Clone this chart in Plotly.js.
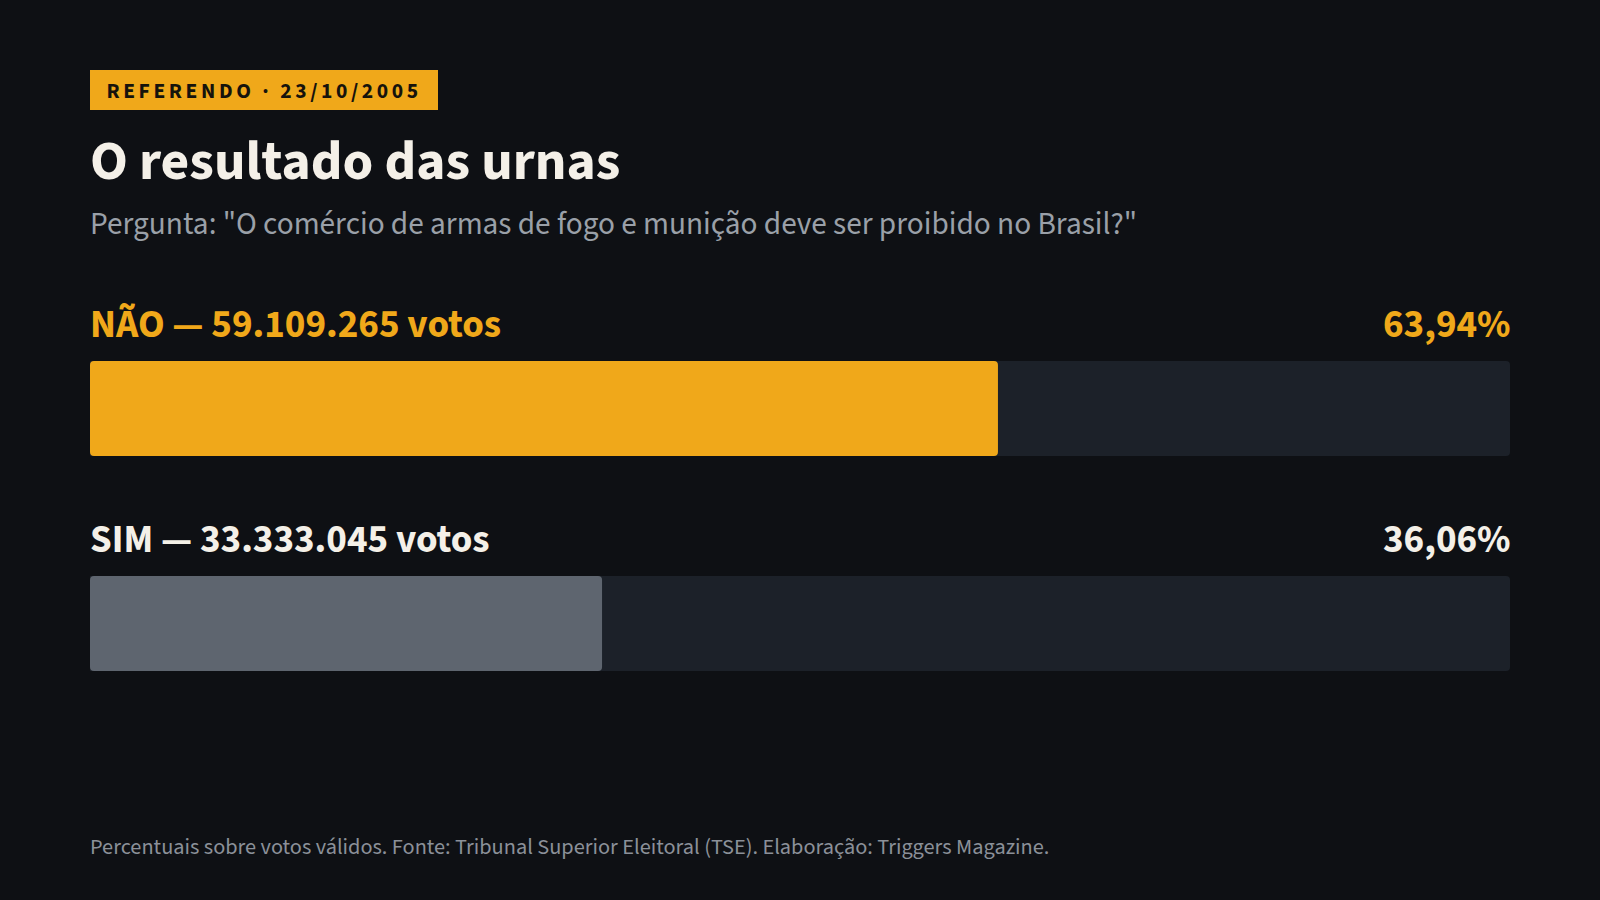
<!DOCTYPE html>
<html lang="pt-BR">
<head>
<meta charset="utf-8">
<title>O resultado das urnas</title>
<script src="https://cdn.plot.ly/plotly-3.0.1.min.js"></script>
<style>
    html, body { margin: 0; padding: 0; background: #0e1014; }
    #chart { width: 1600px; height: 900px; }
    /* tag letter spacing */
    .annotation[data-index="0"] text { letter-spacing: 3.6px; }
</style>
</head>
<body>
<div id="chart"></div>
<script>
/* ── data ── */
const options = ['NÃO', 'SIM'];
const votes = [59109265, 33333045];
const percents = [63.94, 36.06];

const tagText = 'REFERENDO · 23/10/2005';
const titleText = 'O resultado das urnas';
const subtitleText = 'Pergunta: "O comércio de armas de fogo e munição deve ser proibido no Brasil?"';
const footerText = 'Percentuais sobre votos válidos. Fonte: Tribunal Superior Eleitoral (TSE). Elaboração: Triggers Magazine.';

/* ── style ── */
const FONT = '"Source Sans 3", "Source Sans Pro", Lato, sans-serif';
const C = {
    bg: '#0e1014',
    track: '#1c2129',
    orange: '#f0a81a',
    grey: '#5e656f',
    text: '#f4f0e8',
    muted: '#9aa0a8',
    foot: '#8b9099',
};
const barColors = [C.orange, C.grey];
const labelColors = [C.orange, C.text];

const W = 1600, H = 900;
const px = x => x / W;          // page px -> paper x
const py = y => 1 - y / H;      // page px -> paper y

const fmtVotes = n => n.toLocaleString('pt-BR');
const fmtPct = p => p.toFixed(2).replace('.', ',') + '%';

// track behind (rounded at the right end) + filled bar.
// The fill is drawn from its value back to 0 so the rounded end sits on the left.
const traces = [
    {
        type: 'bar', orientation: 'h',
        y: options, x: options.map(() => 100),
        marker: { color: C.track, cornerradius: 4 },
        width: 0.442, hoverinfo: 'skip',
    },
    {
        type: 'bar', orientation: 'h',
        y: options, base: percents, x: percents.map(p => -p),
        marker: { color: barColors, cornerradius: 4 },
        width: 0.442, hoverinfo: 'skip',
    },
];

const annotations = [
    // 0: tag (letter-spaced via css)
    { text: '<b>' + tagText + '</b>', xref: 'paper', yref: 'paper', x: px(264), y: py(91),
      xanchor: 'center', yanchor: 'middle', showarrow: false,
      font: { family: FONT, size: 21.5, color: '#16130c' } },
    { text: '<b>' + titleText + '</b>', xref: 'paper', yref: 'paper', x: px(88), y: py(161),
      xanchor: 'left', yanchor: 'middle', showarrow: false,
      font: { family: FONT, size: 55.5, color: C.text } },
    { text: subtitleText, xref: 'paper', yref: 'paper', x: px(88), y: py(224.5),
      xanchor: 'left', yanchor: 'middle', showarrow: false,
      font: { family: FONT, size: 31.3, color: C.muted } },
    { text: footerText, xref: 'paper', yref: 'paper', x: px(88), y: py(847),
      xanchor: 'left', yanchor: 'middle', showarrow: false,
      font: { family: FONT, size: 22.3, color: C.foot } },
];

options.forEach((opt, i) => {
    annotations.push({
        text: '<b>' + opt + ' — ' + fmtVotes(votes[i]) + ' votos</b>',
        xref: 'paper', yref: 'y', x: px(88), y: opt, yshift: 84,
        xanchor: 'left', yanchor: 'middle', showarrow: false,
        font: { family: FONT, size: 39, color: labelColors[i] },
    });
    annotations.push({
        text: '<b>' + fmtPct(percents[i]) + '</b>',
        xref: 'paper', yref: 'y', x: px(1513), y: opt, yshift: 84,
        xanchor: 'right', yanchor: 'middle', showarrow: false,
        font: { family: FONT, size: 39, color: labelColors[i] },
    });
});

const layout = {
    width: W, height: H,
    margin: { l: 0, r: 0, t: 0, b: 0 },
    paper_bgcolor: C.bg, plot_bgcolor: C.bg,
    showlegend: false,
    barmode: 'overlay',
    xaxis: { range: [0, 100], domain: [px(90), px(1510)], visible: false, fixedrange: true },
    yaxis: { type: 'category', range: [1.5, -0.5], domain: [py(731), py(301)], visible: false, fixedrange: true },
    shapes: [
        { type: 'rect', xref: 'paper', yref: 'paper', x0: px(90), x1: px(438), y0: py(70), y1: py(110),
          fillcolor: C.orange, line: { width: 0 }, layer: 'below' },
    ],
    annotations: annotations,
};

Plotly.newPlot('chart', traces, layout, { staticPlot: true, displayModeBar: false });
</script>
</body>
</html>
